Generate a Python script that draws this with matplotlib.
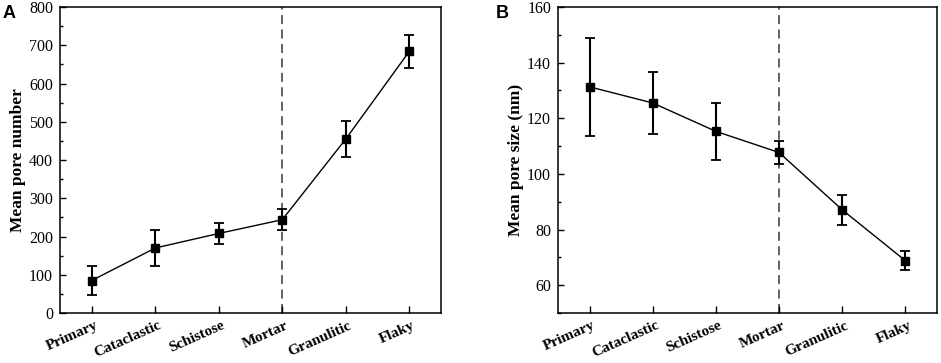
import numpy as np
import matplotlib
matplotlib.use("Agg")
import matplotlib.pyplot as plt
import matplotlib.transforms as mtransforms

# rock types, shared by both panels
types = ["Primary", "Cataclastic", "Schistose", "Mortar", "Granulitic", "Flaky"]

# panel A: mean pore number
pore_num = [85, 170, 208, 244, 455, 684]
pore_num_err = [38, 46, 28, 28, 48, 44]

# panel B: mean pore size (nm)
pore_size = [131.3, 125.5, 115.3, 107.7, 87.1, 68.8]
pore_size_err = [17.6, 11.2, 10.3, 4.0, 5.4, 3.5]

plt.rcParams['font.family'] = ['Liberation Serif', 'DejaVu Serif']

fig = plt.figure(figsize=(9.41, 3.63), dpi=100)
axA = fig.add_axes([0.0638, 0.1377, 0.4049, 0.843])
axB = fig.add_axes([0.593, 0.1377, 0.4027, 0.843])

def draw(ax, y, yerr, ylim, major, minor, ylabel):
    x = np.arange(len(types))
    ax.axvline(3, color="#555555", lw=1.3, ls=(0, (5, 3)), zorder=1)
    ax.errorbar(x, y, yerr=yerr, color="black", lw=1.0, marker="s", ms=6,
                ecolor="black", elinewidth=1.5, capsize=3.5, capthick=1.3, zorder=3)
    ax.set_xlim(-0.5, 5.5)
    ax.set_ylim(*ylim)
    ax.set_yticks(major)
    ax.set_yticks(minor, minor=True)
    ax.set_xticks(x)
    ax.set_xticklabels([])
    # rotated category labels, nudged right of their ticks
    trans = ax.get_xaxis_transform() + mtransforms.ScaledTranslation(
        8 / 100, -6 / 100, fig.dpi_scale_trans)
    for xi, name in zip(x, types):
        ax.text(xi, 0, name, transform=trans, rotation=24, ha="right", va="top",
                fontweight="bold", fontsize=11)
    ax.tick_params(axis="x", direction="in", length=5, width=1)
    ax.tick_params(axis="y", which="major", direction="in", length=4, width=1,
                   labelsize=11.5, pad=5)
    ax.tick_params(axis="y", which="minor", direction="in", length=2.5, width=1)
    ax.set_ylabel(ylabel, fontweight="bold", fontsize=12.5, labelpad=2)
    for s in ax.spines.values():
        s.set_linewidth(1.1)

draw(axA, pore_num, pore_num_err, (0, 800), np.arange(0, 801, 100),
     np.arange(50, 800, 100), "Mean pore number")
draw(axB, pore_size, pore_size_err, (50, 160), np.arange(60, 161, 20),
     np.arange(50, 160, 10), "Mean pore size (nm)")

fig.text(0.003, 0.985, "A", family="Liberation Sans", fontweight="bold",
         fontsize=13, va="top", ha="left")
fig.text(0.527, 0.985, "B", family="Liberation Sans", fontweight="bold",
         fontsize=13, va="top", ha="left")

fig.savefig("out.png", dpi=100)
